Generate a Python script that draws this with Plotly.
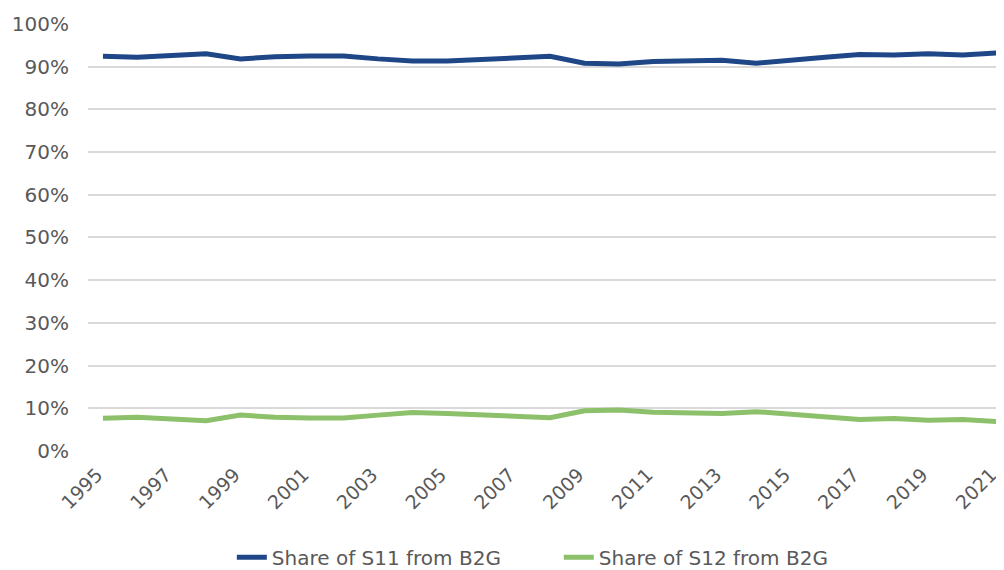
import plotly.graph_objects as go

# Data
years = list(range(1995, 2022))
tick_years = list(range(1995, 2022, 2))
share_s11 = [92.4, 92.2, 92.6, 93.0, 91.8, 92.3, 92.5, 92.5, 91.8, 91.3, 91.3, 91.6, 92.0,
             92.4, 90.8, 90.6, 91.2, 91.4, 91.5, 90.8, 91.6, 92.2, 92.8, 92.7, 93.0, 92.7, 93.2]
share_s12 = [7.65, 7.9, 7.5, 7.1, 8.4, 7.9, 7.7, 7.7, 8.4, 9.0, 8.8, 8.4, 8.1,
             7.8, 9.4, 9.6, 9.1, 9.0, 8.8, 9.2, 8.6, 8.1, 7.4, 7.6, 7.2, 7.4, 6.9]

fig = go.Figure()
fig.add_trace(go.Scatter(x=years, y=[v / 100 for v in share_s11],
                         mode='lines', name='Share of S11 from B2G',
                         line=dict(color='#1f4788', width=5)))
fig.add_trace(go.Scatter(x=years, y=[v / 100 for v in share_s12],
                         mode='lines', name='Share of S12 from B2G',
                         line=dict(color='#8dc06a', width=5)))

# page body adds an 8px margin; figure is taller than the window so the legend
# never pushes the bottom margin (the extra strip is simply off-screen)
fig.update_layout(
    width=996, height=580,
    paper_bgcolor='white', plot_bgcolor='white',
    margin=dict(l=80, r=0, t=15, b=137),
    font=dict(family='DejaVu Sans', size=20, color='#595959'),
    xaxis=dict(range=[1994.564, 2021.2], tickmode='array', tickvals=tick_years,
               ticktext=[str(y) for y in tick_years], tickangle=-45,
               tickfont=dict(size=19),
               showgrid=False, zeroline=False, showline=False, ticks='',
               automargin=False, ticklabelstandoff=8, ticklabelshift=-6,
               ticklabeloverflow='allow'),
    yaxis=dict(range=[0, 1.002], dtick=0.1, tickformat='.0%',
               gridcolor='#d9d9d9', gridwidth=1.5, zeroline=False, showline=False,
               automargin=False, ticklabelstandoff=18),
    legend=dict(orientation='h', x=0.514, xanchor='center', y=-0.248, yanchor='middle',
                font=dict(size=20), entrywidth=282),
)

fig.write_html("out.html")
